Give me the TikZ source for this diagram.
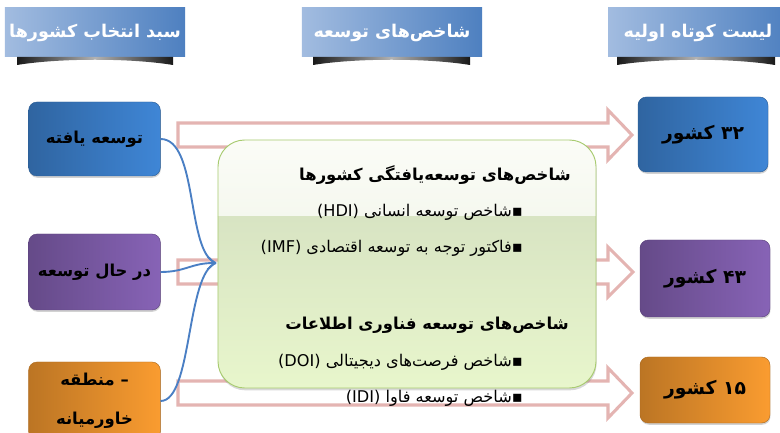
\documentclass[tikz,border=0pt]{standalone}
\usepackage{fontspec}
\newfontfamily\fafont[Script=Arabic]{DejaVu Sans}
\TeXXeTstate=1
\usetikzlibrary{shadows,calc,arrows.meta}
\definecolor{hdrlight}{HTML}{A2BCE0}
\definecolor{hdrdark}{HTML}{4E80C0}
\definecolor{boxblue}{HTML}{3F86D6}
\definecolor{boxpurple}{HTML}{8763B6}
\definecolor{boxorange}{HTML}{FA9C30}
\definecolor{pinkline}{HTML}{E4B4B2}
\definecolor{greenline}{HTML}{A8CB70}
\definecolor{curveblue}{HTML}{4A7FC4}
\definecolor{glosstop}{HTML}{FBFCF7}
\definecolor{glossmid}{HTML}{E8EFDD}
\definecolor{bandtop}{HTML}{D8E4C3}
\definecolor{bandbottom}{HTML}{E8F6CC}
\newcommand{\fa}[1]{{\fafont\beginR #1\endR}}
\begin{document}
\begin{tikzpicture}[x=0.03cm,y=-0.03cm,
	header/.style={rectangle, minimum width=5.4cm, minimum height=1.47cm, left color=hdrlight, right color=hdrdark, text=white, font=\fafont\bfseries\fontsize{15}{18}\selectfont},
	ribbon/.style={left color=black!90, right color=black!90, middle color=black!30},
	group/.style={rectangle, rounded corners=0.25cm, minimum width=3.95cm, draw=#1!70!black, left color=#1!75!black, right color=#1, font=\fafont\bfseries\fontsize{14}{33}\selectfont, align=center, drop shadow={opacity=0.35, shadow xshift=0.4pt, shadow yshift=-1.5pt}},
	hollow/.style={draw=pinkline, line width=2.6pt, fill=white, line join=miter},
	link/.style={draw=curveblue, line width=1.6pt},
	title/.style={anchor=east, font=\fafont\bfseries\fontsize{14}{17}\selectfont},
	item/.style={anchor=east, font=\fafont\fontsize{13.8}{16}\selectfont}]
	\clip (0,0) rectangle (780,433);
	\fill[white] (0,0) rectangle (780,433);

	% headers
	\node (H1) at (95,32.5)  [header] {\fa{سبد انتخاب کشورها}};
	\node (H2) at (392,32.5) [header] {\fa{شاخص‌های توسعه}};
	\node (H3) at (698,32.5) [header] {\fa{لیست کوتاه اولیه}};
	\shade[ribbon] (17,57) -- (173,57) -- (173,65) .. controls (130,58) and (60,58) .. (17,65) -- cycle;
	\shade[ribbon] (313,57) -- (470,57) -- (470,65) .. controls (427,58) and (356,58) .. (313,65) -- cycle;
	\shade[ribbon] (617,57) -- (775,57) -- (775,65) .. controls (732,58) and (660,58) .. (617,65) -- cycle;

	% hollow arrows
	\filldraw[hollow] (178,123) -- (608,123) -- (608,110) -- (632,135) -- (608,160) -- (608,147) -- (178,147) -- cycle;
	\filldraw[hollow] (178,260) -- (608,260) -- (608,247) -- (633,272) -- (608,297) -- (608,284) -- (178,284) -- cycle;
	\filldraw[hollow] (178,381) -- (608,381) -- (608,368) -- (632,393) -- (608,418) -- (608,405) -- (178,405) -- cycle;

	% country groups
	\node (G1) at (94.5,139) [group=boxblue, minimum height=2.22cm]   {\fa{توسعه یافته}};
	\node (G2) at (94.5,272) [group=boxpurple, minimum height=2.28cm] {\fa{در حال توسعه}};
	\node (G3) at (94.5,401) [group=boxorange, minimum height=2.34cm] {\fa{– منطقه}\\\fa{خاورمیانه}};

	% short lists
	\node (L1) at (703,134.5) [group=boxblue, minimum width=3.9cm, minimum height=2.25cm, font=\fafont\bfseries\fontsize{16}{19}\selectfont]   {\fa{۳۲ کشور}};
	\node (L2) at (705,278.5) [group=boxpurple, minimum width=3.9cm, minimum height=2.31cm, font=\fafont\bfseries\fontsize{16}{19}\selectfont] {\fa{۴۳ کشور}};
	\node (L3) at (705,390)   [group=boxorange, minimum width=3.9cm, minimum height=1.98cm, font=\fafont\bfseries\fontsize{16}{19}\selectfont] {\fa{۱۵ کشور}};

	% indicators
	\node (IND) at (407,264) [rectangle, rounded corners=0.8cm, minimum width=11.34cm, minimum height=7.44cm, draw=greenline, line width=0.8pt,
		drop shadow={opacity=0.3, shadow xshift=0.5pt, shadow yshift=-2pt},
		path picture={
			\shade[sharp corners, top color=glosstop, bottom color=glossmid] (path picture bounding box.north west) rectangle ($(path picture bounding box.north east)!0.31!(path picture bounding box.south east)$);
			\shade[sharp corners, top color=bandtop, bottom color=bandbottom] ($(path picture bounding box.north west)!0.31!(path picture bounding box.south west)$) rectangle (path picture bounding box.south east);
		}] {};
	\node (T1) at (575,175) [title] {\fa{شاخص‌های توسعه‌یافتگی کشورها}};
	\node (I1) at (527,212) [item]  {\fa{▪شاخص توسعه انسانی \beginL(HDI)\endL}};
	\node (I2) at (527,248) [item]  {\fa{▪فاکتور توجه به توسعه اقتصادی \beginL(IMF)\endL}};
	\node (T2) at (573,325) [title] {\fa{شاخص‌های توسعه فناوری اطلاعات}};
	\node (I3) at (527,362) [item]  {\fa{▪شاخص فرصت‌های دیجیتالی \beginL(DOI)\endL}};
	\node (I4) at (527,398) [item]  {\fa{▪شاخص توسعه فاوا \beginL(IDI)\endL}};

	% links
	\coordinate (M) at (216,263);
	\draw[link] (G1.east) .. controls +(38,0) and +(-30,-10) .. (M);
	\draw[link, -{Straight Barb[length=6pt,width=11pt]}] (G2.east) .. controls +(25,0) and +(-25,0) .. (M);
	\draw[link] (G3.east) .. controls +(32,0) and +(-30,10) .. (M);
\end{tikzpicture}
\end{document}
